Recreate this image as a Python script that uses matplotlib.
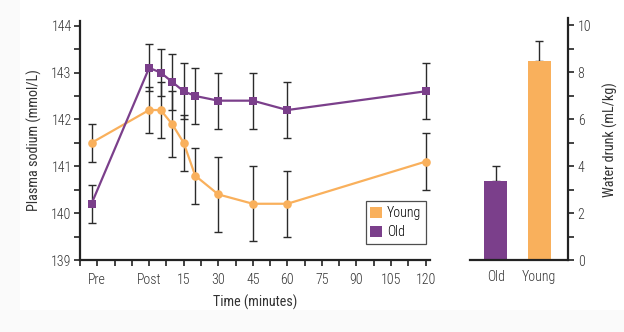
import matplotlib
matplotlib.use("Agg")
import matplotlib.pyplot as plt
from matplotlib import font_manager
from matplotlib.patches import Rectangle, Patch
from matplotlib.ticker import MultipleLocator, FixedLocator

# Sampling times (minutes relative to end of drinking); "Pre" sits before zero
times = [-25, 0, 5, 10, 15, 20, 30, 45, 60, 120]

# Plasma sodium (mmol/L), mean and error
old_na = [140.2, 143.1, 143.0, 142.8, 142.6, 142.5, 142.4, 142.4, 142.2, 142.6]
old_err = [0.4, 0.5, 0.5, 0.6, 0.6, 0.6, 0.6, 0.6, 0.6, 0.6]
young_na = [141.5, 142.2, 142.2, 141.9, 141.5, 140.8, 140.4, 140.2, 140.2, 141.1]
young_err = [0.4, 0.5, 0.6, 0.7, 0.6, 0.6, 0.8, 0.8, 0.7, 0.6]

# Water drunk (mL/kg)
groups = ["Old", "Young"]
water = [3.35, 8.5]
water_err = [0.65, 0.85]

tick_pos = [-22.5, 0, 15, 30, 45, 60, 75, 90, 105, 120]
tick_labels = ["Pre", "Post", "15", "30", "45", "60", "75", "90", "105", "120"]

ORANGE = "#F9B05C"
PURPLE = "#7B3F8B"
EBAR = "#2b2b2b"
TXT = "#333333"

# Prefer a narrow sans face when one is installed
fonts = font_manager.fontManager.ttflist
names = {f.name for f in fonts}
narrow = [f.name for f in fonts
          if ("Narrow" in f.name or "Condensed" in f.name) and "Mono" not in f.name
          and "Serif" not in f.name]
family = []
for pref in ["Liberation Sans Narrow", "Roboto Condensed", "DejaVu Sans Condensed"]:
    if pref in names:
        family.append(pref)
family += [n for n in narrow if n not in family]
family += ["Liberation Sans", "DejaVu Sans"]
plt.rcParams["font.family"] = family
plt.rcParams["font.weight"] = "light"
plt.rcParams["font.size"] = 9.5

W, H = 624, 332
fig = plt.figure(figsize=(W / 100, H / 100), dpi=100, facecolor="#FAFAFA")
fig.patches.append(Rectangle((20 / W, 22 / H), 1 - 20 / W, 1 - 22 / H,
                             transform=fig.transFigure, facecolor="white",
                             edgecolor="none", zorder=-10))


def frac(x0, y0, x1, y1):
    return [x0 / W, 1 - y1 / H, (x1 - x0) / W, (y1 - y0) / H]


# ---- sodium time course ----
ax = fig.add_axes(frac(80, 21, 430, 260))
ax.set_facecolor("none")
for vals, errs, col, mk, ms in [(young_na, young_err, ORANGE, "o", 6.2),
                                 (old_na, old_err, PURPLE, "s", 5.2)]:
    ax.errorbar(times, vals, yerr=errs, fmt="none", ecolor=EBAR,
                elinewidth=1.0, capsize=3, capthick=1.0, zorder=2)
    ax.plot(times, vals, color=col, lw=1.6, marker=mk, ms=ms,
            markeredgewidth=0, zorder=3)

ax.set_xlim(-30, 121.9)
ax.set_ylim(139, 144.1)
ax.xaxis.set_major_locator(FixedLocator(tick_pos))
ax.set_xticklabels(tick_labels)
ax.xaxis.set_minor_locator(MultipleLocator(7.5))
ax.yaxis.set_major_locator(MultipleLocator(1))
ax.yaxis.set_minor_locator(MultipleLocator(0.5))
ax.tick_params(which="both", direction="out", length=4, width=1.2,
               color="#222222", labelcolor=TXT, labelsize=10)
ax.tick_params(axis="x", pad=5)
ax.tick_params(axis="y", pad=2)
for side in ("top", "right"):
    ax.spines[side].set_visible(False)
for side in ("left", "bottom"):
    ax.spines[side].set_linewidth(1.6)
    ax.spines[side].set_color("#222222")
ax.set_xlabel("Time (minutes)", fontsize=10.2, color=TXT, labelpad=6)
ax.set_ylabel("Plasma sodium (mmol/L)", fontsize=10.2, color=TXT, labelpad=7)

handles = [Patch(facecolor=ORANGE, edgecolor="none", label="Young"),
           Patch(facecolor=PURPLE, edgecolor="none", label="Old")]
leg = ax.legend(handles=handles, loc="lower left",
                bbox_to_anchor=(0.816, 0.067), borderaxespad=0,
                frameon=True, fancybox=False, handlelength=0.8,
                handleheight=0.8, handletextpad=0.4, borderpad=0.35,
                labelspacing=0.35, fontsize=10)
leg.get_frame().set_edgecolor("#222222")
leg.get_frame().set_linewidth(0.9)

# ---- water intake bars ----
ax2 = fig.add_axes(frac(470, 18.3, 568, 260))
ax2.set_facecolor("none")
ax2.bar([0, 1], water, width=0.53, color=[PURPLE, ORANGE], zorder=2)
ax2.errorbar([0, 1], water, yerr=[[0, 0], water_err], fmt="none",
             ecolor=EBAR, elinewidth=1.0, capsize=3, capthick=1.0, zorder=1)
ax2.set_xlim(-0.594, 1.664)
ax2.set_ylim(0, 10.3)
ax2.set_xticks([0, 1])
ax2.set_xticklabels(groups)
ax2.yaxis.set_major_locator(MultipleLocator(2))
ax2.yaxis.set_minor_locator(MultipleLocator(1))
ax2.yaxis.tick_right()
ax2.yaxis.set_label_position("right")
ax2.tick_params(axis="y", which="both", direction="out", length=4, width=1.2,
                color="#222222", labelcolor=TXT, pad=3, labelsize=10)
ax2.tick_params(axis="x", length=0, pad=7, labelcolor=TXT, labelsize=10)
for side in ("top", "left"):
    ax2.spines[side].set_visible(False)
for side in ("right", "bottom"):
    ax2.spines[side].set_linewidth(1.6)
    ax2.spines[side].set_color("#222222")
ax2.set_ylabel("Water drunk (mL/kg)", fontsize=10.2, color=TXT, labelpad=8)

fig.savefig("out.png", dpi=100, facecolor=fig.get_facecolor())
